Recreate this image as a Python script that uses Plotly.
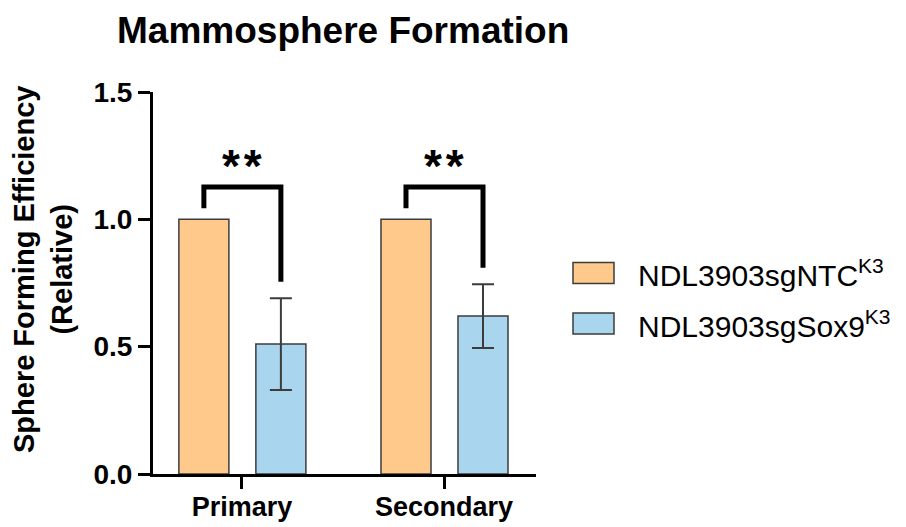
import plotly.graph_objects as go

# ---- data ----
categories = ["Primary", "Secondary"]
series_names = ["NDL3903sgNTC<sup>K3</sup>", "NDL3903sgSox9<sup>K3</sup>"]
ntc_values = [1.0, 1.0]
sox9_values = [0.51, 0.62]
sox9_err = [0.18, 0.125]
significance = ["**", "**"]
ytick_vals = [0.0, 0.5, 1.0, 1.5]
ytick_text = ["0.0", "0.5", "1.0", "1.5"]

# ---- style ----
W, H = 906, 527
ML, MR, MT, MB = 153, 370, 92, 53
PW, PH = W - ML - MR, H - MT - MB
FONT = "Liberation Sans, Arial, sans-serif"
ORANGE = "#FEC98A"
BLUE = "#A9D5EE"
EDGE = "#3c3c3c"
BAR_W = 0.2475
OFF_NTC = -0.312
OFF_SOX = 0.069


def px(x):
    return (x - ML) / PW


def py(y):
    return (H - MB - y) / PH


xs = list(range(len(categories)))

fig = go.Figure()
fig.add_trace(go.Bar(
    x=xs, y=ntc_values, width=BAR_W, offset=OFF_NTC, name=series_names[0],
    marker=dict(color=ORANGE, line=dict(color=EDGE, width=1.5)), showlegend=False))
fig.add_trace(go.Bar(
    x=xs, y=sox9_values, width=BAR_W, offset=OFF_SOX, name=series_names[1],
    marker=dict(color=BLUE, line=dict(color=EDGE, width=1.5)),
    error_y=dict(type="data", array=sox9_err, visible=True, color=EDGE, thickness=2, width=11),
    showlegend=False))

shapes = []
annotations = []
for i, (a, b, e, sig) in enumerate(zip(ntc_values, sox9_values, sox9_err, significance)):
    x0 = i + OFF_NTC + BAR_W / 2
    x1 = i + OFF_SOX + BAR_W / 2
    top = a + 0.127
    yl = a + 0.044
    yr = b + e + 0.065
    shapes.append(dict(type="path", xref="x", yref="y",
                       path=f"M {x0},{yl} L {x0},{top} L {x1},{top} L {x1},{yr}",
                       line=dict(color="black", width=5)))
    annotations.append(dict(x=(x0 + x1) / 2, y=top + 0.083, xref="x", yref="y",
                            text="\u200a".join(sig), showarrow=False,
                            xanchor="center", yanchor="middle",
                            font=dict(family=FONT, size=46, color="black", weight=700)))

# legend (custom)
legend_rows = [(273, ORANGE), (323.5, BLUE)]
for (cy, col), name in zip(legend_rows, series_names):
    shapes.append(dict(type="rect", xref="paper", yref="paper",
                       x0=px(573), x1=px(614), y0=py(cy - 10.5), y1=py(cy + 10.5),
                       fillcolor=col, line=dict(color=EDGE, width=1.5)))
    annotations.append(dict(x=px(636), y=py(cy), xref="paper", yref="paper",
                            text=name, showarrow=False, xanchor="left", yanchor="middle",
                            font=dict(family=FONT, size=30, color="black")))

# title
annotations.append(dict(x=px(343), y=py(30), xref="paper", yref="paper",
                        text="Mammosphere Formation", showarrow=False,
                        xanchor="center", yanchor="middle",
                        font=dict(family=FONT, size=37, color="black", weight=700)))
# y axis title
annotations.append(dict(x=px(43), y=py(270), xref="paper", yref="paper",
                        text="Sphere Forming Efficiency<br>(Relative)", showarrow=False,
                        textangle=-90, xanchor="center", yanchor="middle",
                        font=dict(family=FONT, size=29, color="black", weight=700)))

fig.update_layout(
    width=W, height=H, margin=dict(l=ML, r=MR, t=MT, b=MB, autoexpand=False),
    plot_bgcolor="white", paper_bgcolor="white",
    barmode="overlay", shapes=shapes, annotations=annotations,
    xaxis=dict(range=[-0.44, 1.455], tickvals=xs, ticktext=categories, automargin=False,
               showline=True, linewidth=3, linecolor="black", ticks="outside",
               ticklen=12, tickwidth=3, tickcolor="black", showgrid=False, zeroline=False,
               ticklabelstandoff=-5,
               tickfont=dict(family=FONT, size=27, color="black", weight=700)),
    yaxis=dict(range=[0, 1.5], tickvals=ytick_vals, ticktext=ytick_text, automargin=False,
               showline=True, linewidth=3, linecolor="black", ticks="outside",
               ticklen=12, tickwidth=3, tickcolor="black", showgrid=False, zeroline=False,
               tickfont=dict(family=FONT, size=28, color="black", weight=700)),
)

fig.write_html("out.html")
